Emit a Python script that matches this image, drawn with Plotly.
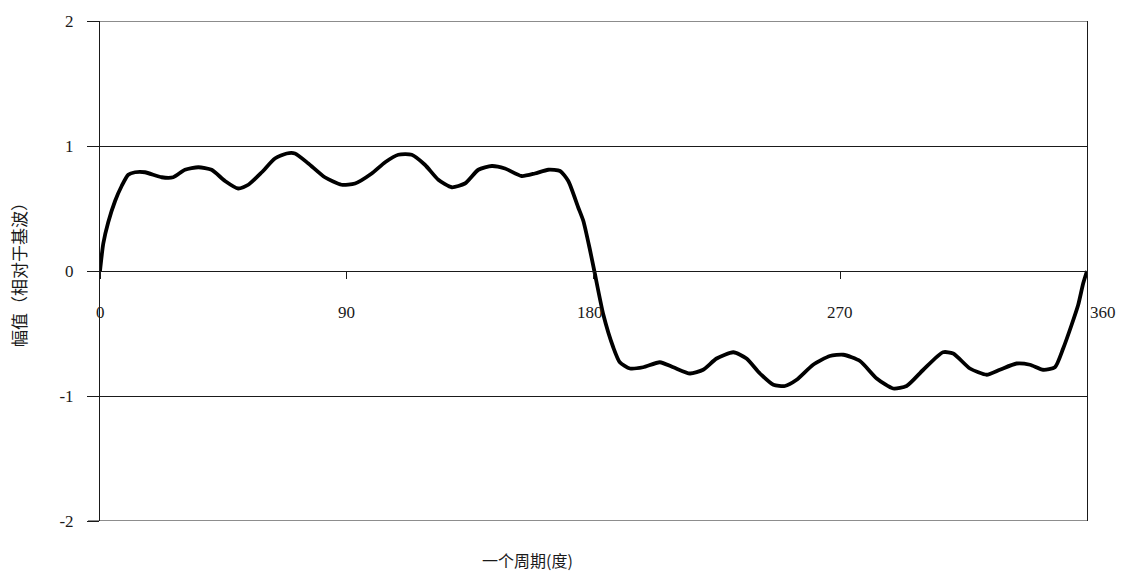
import plotly.graph_objects as go

# One period of the waveform, amplitude relative to the fundamental
phase_deg = [
    0, 1.2, 3.0, 5.5, 7.9, 10.3, 12.8, 16.4, 22.5, 26.7, 31.0, 35.9, 40.7,
    45.6, 50.4, 54.1, 59.0, 63.8, 68.1, 71.1, 76.0, 82.0, 88.1, 93.0, 99.1,
    104.0, 108.8, 113.7, 118.5, 123.4, 128.3, 133.1, 138.0, 142.9, 147.7,
    153.8, 158.6, 163.5, 167.8, 170.8, 174.4, 176.3, 178.7, 180.3, 183.6,
    187.2, 189.6, 193.3, 198.1, 204.2, 209.1, 215.2, 220.0, 224.9, 231.0,
    235.8, 240.7, 245.6, 249.8, 254.1, 260.1, 266.2, 271.1, 277.2, 283.3,
    289.3, 294.2, 300.3, 307.5, 311.2, 317.3, 323.4, 328.2, 334.3, 339.2,
    344.0, 348.3, 351.3, 354.4, 356.8, 358.6, 360.0,
]
amplitude = [
    0.0, 0.22, 0.39, 0.56, 0.68, 0.77, 0.79, 0.79, 0.75, 0.75, 0.81, 0.83, 0.81,
    0.72, 0.66, 0.69, 0.79, 0.90, 0.94, 0.94, 0.86, 0.75, 0.69, 0.70, 0.78,
    0.87, 0.93, 0.93, 0.85, 0.73, 0.67, 0.70, 0.81, 0.84, 0.82,
    0.76, 0.78, 0.81, 0.80, 0.72, 0.51, 0.40, 0.17, 0.0, -0.35,
    -0.61, -0.73, -0.78, -0.77, -0.73, -0.77, -0.82, -0.79, -0.70, -0.65,
    -0.70, -0.82, -0.91, -0.92, -0.87, -0.75, -0.68, -0.67, -0.72, -0.86,
    -0.94, -0.92, -0.79, -0.65, -0.66, -0.78, -0.83, -0.79, -0.74, -0.75,
    -0.79, -0.77, -0.62, -0.43, -0.27, -0.10, 0.0,
]

x_ticks = [0, 90, 180, 270, 360]
x_tick_labels = ["0", "90", "180", "270", "360"]
y_ticks = [-2, -1, 0, 1, 2]
y_tick_labels = ["-2", "-1", "0", "1", "2"]

serif = "Liberation Serif"
cjk = "Noto Sans CJK SC"
ink = "#1a1a1a"

fig = go.Figure()
fig.add_trace(go.Scatter(
    x=phase_deg, y=amplitude, mode="lines",
    line=dict(color="black", width=3.8, shape="spline", smoothing=0.6),
    hoverinfo="skip", showlegend=False,
))

# horizontal rules at the ends of the value range (with their outside tick stubs)
for v in (y_ticks[0], y_ticks[-1]):
    fig.add_shape(type="line", xref="paper", yref="y", x0=-12 / 987, x1=1,
                  y0=v, y1=v, line=dict(color=ink, width=1), layer="below")

# x tick labels sit below the zero line
label_shift = {0: 0, 90: 0, 180: -4, 270: 0, 360: 16}
for v, t in zip(x_ticks, x_tick_labels):
    fig.add_annotation(
        x=v, y=0, xref="x", yref="y", text=t, showarrow=False,
        yshift=-41, xshift=label_shift[v],
        font=dict(family=serif, size=17, color=ink),
    )

fig.add_annotation(
    x=-0.083, y=0.5, xref="paper", yref="paper", text="幅值（相对于基波）",
    textangle=-90, showarrow=False, xanchor="center", yanchor="middle",
    font=dict(family=cjk, size=17, color=ink),
)
fig.add_annotation(
    x=0.433, y=-0.077, xref="paper", yref="paper", text="一个周期(度)",
    showarrow=False, xanchor="center", yanchor="middle",
    font=dict(family=cjk, size=16, color=ink),
)

fig.update_layout(
    width=1127, height=573,
    margin=dict(l=100, r=40, t=15, b=52),
    paper_bgcolor="white", plot_bgcolor="white",
    xaxis=dict(
        range=[0, 360], tickvals=x_ticks, showticklabels=False,
        showgrid=False, zeroline=False,
        anchor="free", position=0.5, showline=True, linecolor=ink, linewidth=1,
        ticks="outside", ticklen=7, tickcolor=ink, tickwidth=1,
    ),
    yaxis=dict(
        range=[-2, 2], tickvals=y_ticks, ticktext=y_tick_labels,
        showgrid=True, gridcolor=ink, gridwidth=1, zeroline=False,
        showline=True, linecolor=ink, linewidth=1, mirror=True,
        ticks="outside", ticklen=12, tickcolor=ink, tickwidth=1,
        ticklabelstandoff=10,
        tickfont=dict(family=serif, size=17, color=ink),
    ),
)

fig.write_html("out.html")
